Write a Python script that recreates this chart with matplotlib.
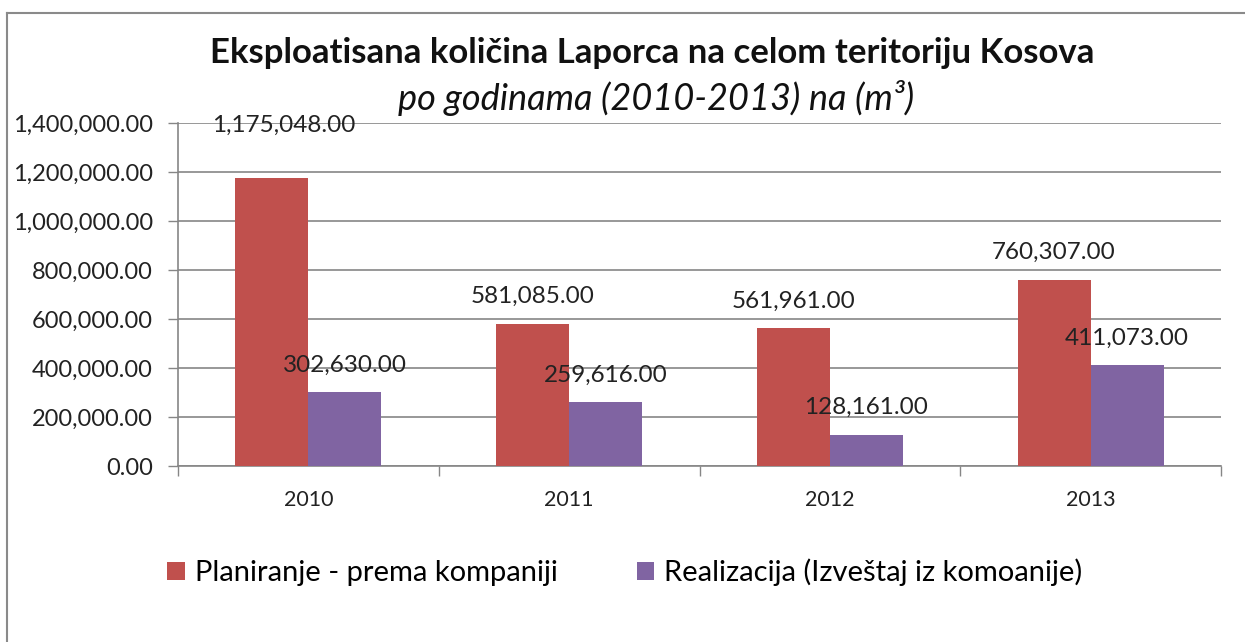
import matplotlib
matplotlib.use("Agg")
import matplotlib.pyplot as plt
from matplotlib.lines import Line2D
import numpy as np

# data
years = ["2010", "2011", "2012", "2013"]
planned = [1175048.00, 581085.00, 561961.00, 760307.00]
realized = [302630.00, 259616.00, 128161.00, 411073.00]
series_names = ["Planiranje - prema kompaniji", "Realizacija (Izveštaj iz komoanije)"]
y_ticks = [0, 200000, 400000, 600000, 800000, 1000000, 1200000, 1400000]

red = "#C0504D"
purple = "#8064A2"
grid_gray = "#868686"

plt.rcParams['font.family'] = ['Lato', 'DejaVu Sans']

fig = plt.figure(figsize=(12.45, 6.42), dpi=100)
ax = fig.add_axes([0.143, 0.274, 0.8377, 0.5344])

x = np.arange(len(years))
w = 0.28
ax.bar(x - w / 2, planned, w, color=red, label=series_names[0], zorder=3)
ax.bar(x + w / 2, realized, w, color=purple, label=series_names[1], zorder=3)

# data labels, excel style above the bars (first one was moved up by hand in the original)
nudge = {(0, 0): (8.6, 38)}
for s, vals in enumerate([planned, realized]):
    for i, v in enumerate(vals):
        xc = x[i] - w / 2 if s == 0 else x[i] + w / 2
        dx, dy = nudge.get((s, i), (0, 19.5))
        ax.annotate("{:,.2f}".format(v), (xc, v), xytext=(dx, dy),
                    textcoords="offset points", ha="center", va="center",
                    fontsize=17.5, color="#222222", zorder=5, annotation_clip=False)

ax.set_xlim(-0.5, len(years) - 0.5)
ax.set_ylim(0, 1400000)
ax.set_yticks(y_ticks)
ax.set_yticklabels(["{:,.2f}".format(t) for t in y_ticks], fontsize=17, color="#222222")
ax.yaxis.grid(True, color=grid_gray, linewidth=1.2, zorder=0)
ax.tick_params(axis="y", direction="out", length=7, width=1, color=grid_gray, pad=11)

ax.set_xticks(x)
ax.set_xticklabels(years, fontsize=15.5, color="#222222")
ax.set_xticks(np.arange(len(years) + 1) - 0.5, minor=True)
ax.tick_params(axis="x", which="major", length=0, pad=17)
ax.tick_params(axis="x", which="minor", direction="out", length=7, width=1, color=grid_gray)

for side in ["top", "right"]:
    ax.spines[side].set_visible(False)
for side in ["left", "bottom"]:
    ax.spines[side].set_color(grid_gray)
    ax.spines[side].set_linewidth(1.2)

fig.text(0.524, 0.918, "Eksploatisana količina Laporca na celom teritoriju Kosova",
         ha="center", va="center", fontsize=25, fontweight="bold", color="#111111")
fig.text(0.527, 0.847, "po godinama (2010-2013) na (m³)",
         ha="center", va="center", fontsize=26, fontstyle="italic", color="#111111")

fig.legend(loc="center", bbox_to_anchor=(0.502, 0.108), ncol=2, frameon=False,
           fontsize=21, handlelength=0.6, handleheight=0.6, handletextpad=0.35,
           columnspacing=2.7)

# outer chart frame (only top and left edges show in the original)
fig.add_artist(Line2D([0.006, 1.0], [0.98, 0.98], color="#8a8a8a", linewidth=1.5,
                      transform=fig.transFigure))
fig.add_artist(Line2D([0.006, 0.006], [0.0, 0.98], color="#8a8a8a", linewidth=1.5,
                      transform=fig.transFigure))

fig.savefig("out.png", dpi=100, facecolor="white")
